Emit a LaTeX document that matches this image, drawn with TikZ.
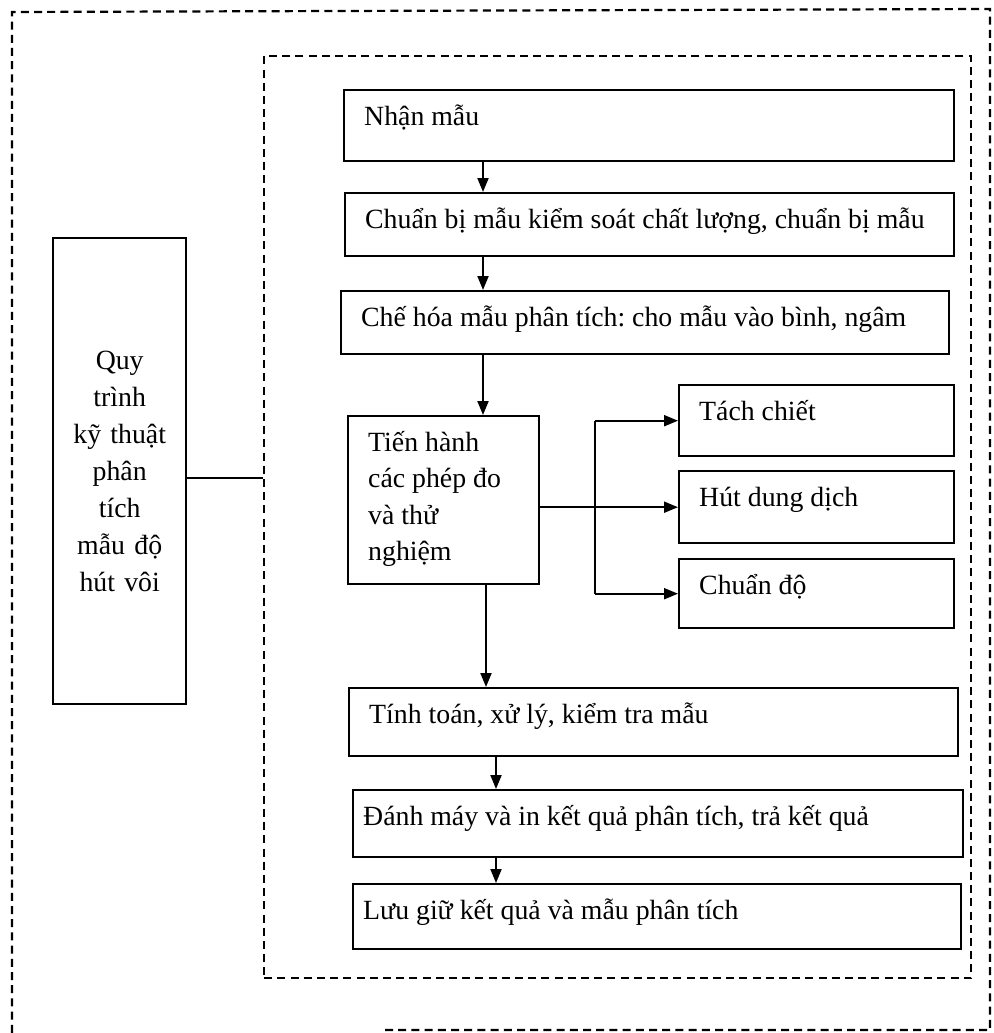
\documentclass[tikz,border=0pt]{standalone}
\usepackage{fontspec}
\setmainfont{Liberation Serif}
\usetikzlibrary{arrows.meta}
\frenchspacing

\tikzset{
  stepbox/.style 2 args={draw, line width=1.2pt, anchor=north west, inner xsep=10pt, inner ysep=0pt,
    text width=#1, text height=17.5pt, text depth=#2, align=flush left,
    font=\fontsize{13.9}{18.25}\selectfont},
  frame/.style={draw, line width=1.1pt, dash pattern=on 4pt off 2.6pt},
  link/.style={line width=1pt},
  arr/.style={link, -{Triangle[length=7pt,width=5.5pt]}}
}

\begin{document}
\begin{tikzpicture}[x=0.5pt,y=-0.5pt]
\useasboundingbox (0,0) rectangle (993,1033);
% khung ngoai
\draw[frame] (385,1030)--(990,1030)--(990,9)--(12,12)--(12,1033);
% khung trong
\node[frame, anchor=north west, inner sep=0pt, minimum width=353.5pt, minimum height=461pt] (khung) at (263,55) {};

\node[draw, line width=1.2pt, anchor=north west, inner sep=0pt, minimum width=66.5pt, minimum height=233pt,
  text width=60pt, align=center, font=\fontsize{13.9}{18.5}\selectfont] (quytrinh) at (52,237)
  {Quy\\trình\\kỹ thuật\\phân\\tích\\mẫu độ\\hút vôi};

\node[stepbox={285pt}{18pt}] (nhan) at (343,89) {Nhận mẫu};
\node[stepbox={284.5pt}{14pt}] (chuanbi) at (344,192) {Chuẩn bị mẫu kiểm soát chất lượng, chuẩn bị mẫu};
\node[stepbox={284pt}{14pt}] (chehoa) at (340,290) {Chế hóa mẫu phân tích: cho mẫu vào bình, ngâm};
\node[stepbox={75.5pt}{66.5pt}] (tien) at (347,415) {Tiến hành\\các phép đo\\và thử\\nghiệm};
\node[stepbox={117.5pt}{18pt}] (tach) at (678,384) {Tách chiết};
\node[stepbox={117.5pt}{18.5pt}] (hut) at (678,470) {Hút dung dịch};
\node[stepbox={117.5pt}{17pt}] (chuando) at (678,558) {Chuẩn độ};
\node[stepbox={284.5pt}{16.5pt}] (tinh) at (348,687) {Tính toán, xử lý, kiểm tra mẫu};
\node[stepbox={295pt}{16pt}, inner xsep=5pt] (danh) at (352,789) {Đánh máy và in kết quả phân tích, trả kết quả};
\node[stepbox={294pt}{15pt}, inner xsep=5pt] (luu) at (352,883) {Lưu giữ kết quả và mẫu phân tích};

\coordinate (cot1) at (483,0);
\coordinate (cot2) at (486,0);
\coordinate (cot3) at (496,0);
\coordinate (re) at (595,0);

\draw[link] ([yshift=-3.5pt]quytrinh.east) -- ([yshift=-3.5pt]quytrinh.east -| khung.west);

\draw[arr] (nhan.south -| cot1) -- (chuanbi.north -| cot1);
\draw[arr] (chuanbi.south -| cot1) -- (chehoa.north -| cot1);
\draw[arr] (chehoa.south -| cot1) -- (tien.north -| cot1);
\draw[arr] (tien.south -| cot2) -- (tinh.north -| cot2);
\draw[arr] (tinh.south -| cot3) -- (danh.north -| cot3);
\draw[arr] (danh.south -| cot3) -- (luu.north -| cot3);

% nhanh sang phai
\draw[arr] (tien.east |- hut.west) -- (hut.west);
\draw[link] (re |- tach.west) -- (re |- chuando.west);
\draw[arr] (re |- tach.west) -- (tach.west);
\draw[arr] (re |- chuando.west) -- (chuando.west);
\end{tikzpicture}
\end{document}
